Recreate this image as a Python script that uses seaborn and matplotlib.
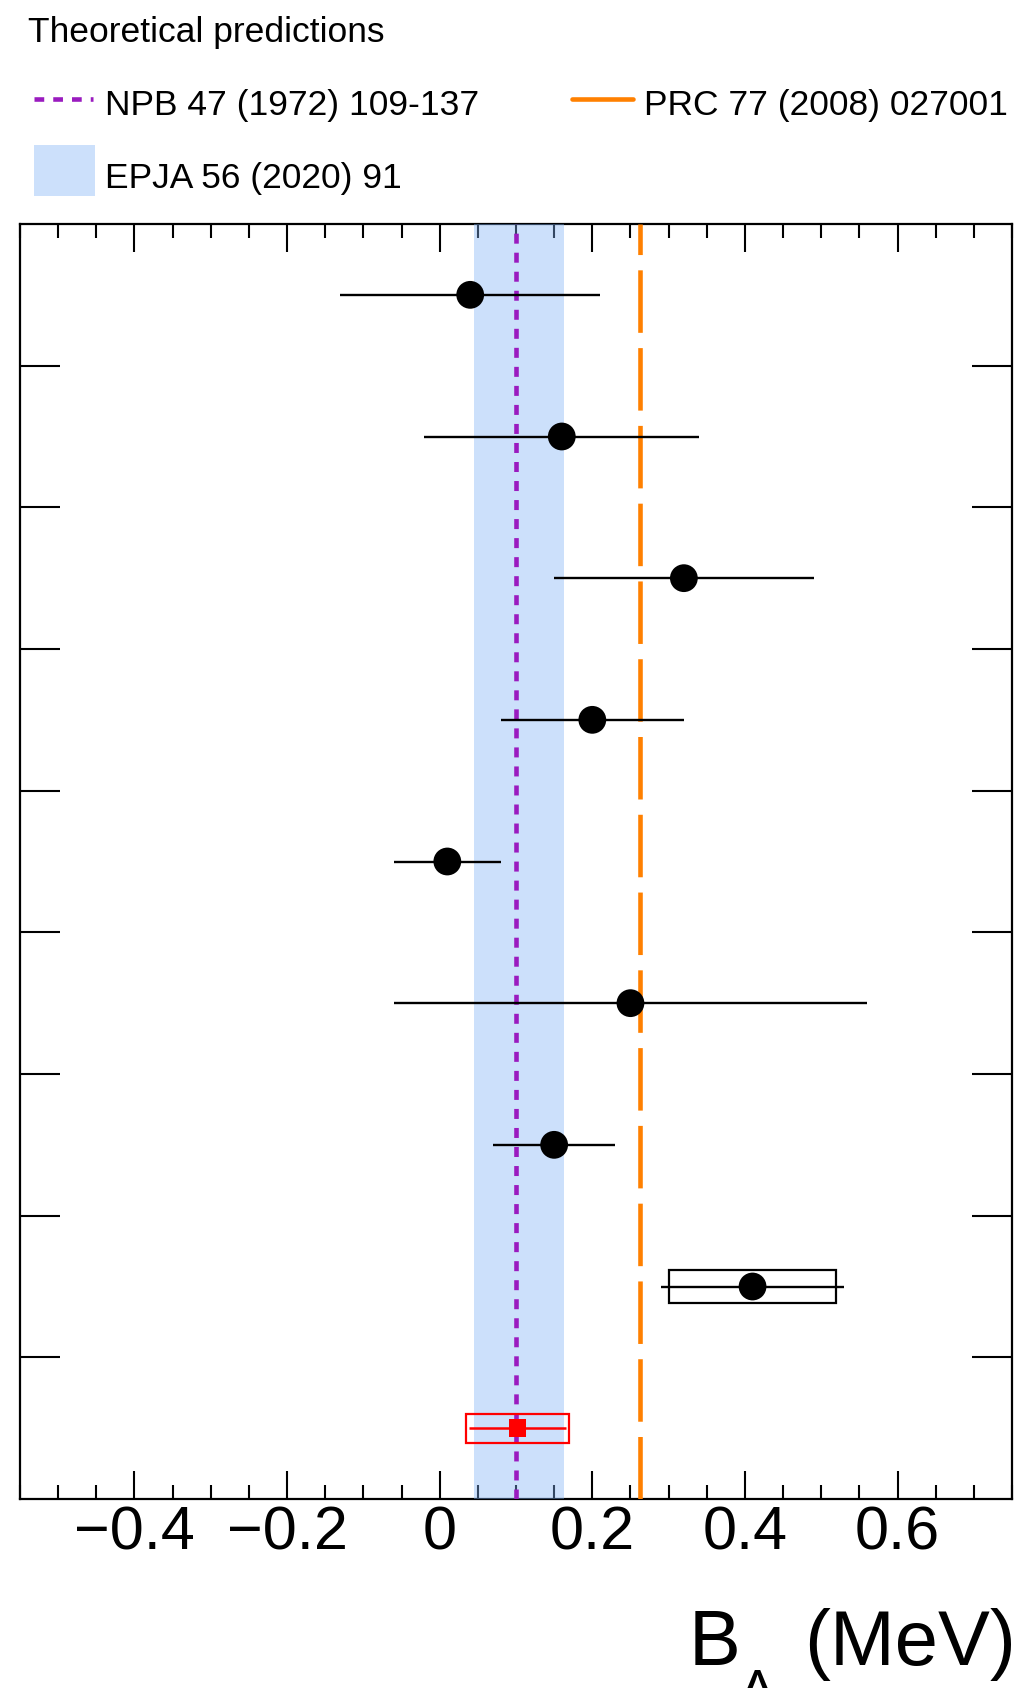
import numpy as np
import pandas as pd
import matplotlib
matplotlib.use("Agg")
import matplotlib.pyplot as plt
import seaborn as sns
from matplotlib.lines import Line2D
from matplotlib.patches import Rectangle
from matplotlib.ticker import MultipleLocator, FixedLocator, FuncFormatter

# ---------------- data ----------------
# measurements, listed from top row to bottom row
black_values = [0.04, 0.16, 0.32, 0.20, 0.01, 0.25, 0.15, 0.41]
black_stat = [0.17, 0.18, 0.17, 0.12, 0.07, 0.31, 0.08, 0.12]
black_syst = [0.0, 0.0, 0.0, 0.0, 0.0, 0.0, 0.0, 0.11]

# this measurement (bottom row, red)
this_value = [0.102]
this_stat = [0.063]
this_syst = [0.068]

# theoretical predictions
npb_value = 0.10            # NPB 47 (1972) 109-137
prc_value = 0.262           # PRC 77 (2008) 027001
epja_band = [0.045, 0.163]  # EPJA 56 (2020) 91

xticks_major = [-0.4, -0.2, 0.0, 0.2, 0.4, 0.6]
legend_title = "Theoretical predictions"
legend_labels = ["NPB 47 (1972) 109-137", "PRC 77 (2008) 027001", "EPJA 56 (2020) 91"]

# ---------------- style ----------------
sns.set_style("white")
plt.rcParams["font.family"] = ["Liberation Sans", "DejaVu Sans"]
plt.rcParams["lines.scale_dashes"] = False
plt.rcParams["text.color"] = "black"
plt.rcParams["xtick.color"] = "black"
plt.rcParams["ytick.color"] = "black"
plt.rcParams["xtick.labelcolor"] = "black"
plt.rcParams["axes.edgecolor"] = "black"

W, H = 1020, 1688
fig = plt.figure(figsize=(W / 100, H / 100), dpi=100)

def fx(px):
    return px / W

def fy(py):
    return 1 - py / H

ax_l, ax_r, ax_t, ax_b = 20, 1012, 224, 1499
ax = fig.add_axes([fx(ax_l), fy(ax_b), fx(ax_r - ax_l), (ax_b - ax_t) / H])

n_rows = len(black_values) + len(this_value)
ypos_black = (np.arange(n_rows)[::-1] + 0.5)[:len(black_values)]
ypos_this = (np.arange(n_rows)[::-1] + 0.5)[len(black_values):]

df_black = pd.DataFrame({"x": black_values, "y": ypos_black,
                         "stat": black_stat, "syst": black_syst})
df_this = pd.DataFrame({"x": this_value, "y": ypos_this,
                        "stat": this_stat, "syst": this_syst})

band_rgb = "#80b2f7"
purple = "#9a1bbf"
orange = "#ff8000"

# theory band and lines
ax.axvspan(epja_band[0], epja_band[1], color=band_rgb, alpha=0.4, lw=0, zorder=2.6)
ax.axvline(npb_value, color=purple, lw=3.3, dashes=(7.2, 6.5), zorder=3)
ax.axvline(prc_value, color=orange, lw=3.3, dashes=(45, 11), zorder=3)

# systematic boxes
sb = df_black[df_black["syst"] > 0]
ax.barh(sb["y"], width=2 * sb["syst"], left=sb["x"] - sb["syst"], height=0.23,
        fill=False, edgecolor="black", linewidth=1.6, zorder=4)
ax.barh(df_this["y"], width=2 * df_this["syst"], left=df_this["x"] - df_this["syst"],
        height=0.205, fill=False, edgecolor="#ff0000", linewidth=1.6, zorder=4)

# statistical error bars
ax.errorbar(df_black["x"], df_black["y"], xerr=df_black["stat"], fmt="none",
            ecolor="black", elinewidth=1.7, capsize=0, zorder=4)
ax.errorbar(df_this["x"], df_this["y"], xerr=df_this["stat"], fmt="none",
            ecolor="#ff0000", elinewidth=1.8, capsize=0, zorder=4)

# markers
sns.scatterplot(data=df_black, x="x", y="y", ax=ax, marker="o", s=400,
                color="black", edgecolor="none", zorder=5, legend=False)
sns.scatterplot(data=df_this, x="x", y="y", ax=ax, marker="s", s=160,
                color="#ff0000", edgecolor="none", zorder=5, legend=False)

# axes
ax.set_xlim(-0.55, 0.75)
ax.set_ylim(0, n_rows)
ax.set_xlabel("")
ax.set_ylabel("")
ax.xaxis.set_major_locator(FixedLocator(xticks_major))
ax.xaxis.set_minor_locator(MultipleLocator(0.05))
ax.xaxis.set_major_formatter(FuncFormatter(
    lambda v, p: "0" if abs(v) < 1e-9 else f"{v:.1f}".replace("-", "\u2212")))
ax.set_yticks(np.arange(1, n_rows))
ax.set_yticklabels([])
ax.tick_params(axis="x", which="major", direction="in", length=20, width=1.5,
               top=True, bottom=True, labelsize=44, pad=5, color="black",
               labelcolor="black")
ax.tick_params(axis="x", which="minor", direction="in", length=10, width=1.5,
               top=True, bottom=True, color="black")
ax.tick_params(axis="y", which="major", direction="in", length=29, width=1.5,
               left=True, right=True, color="black")
for s in ax.spines.values():
    s.set_linewidth(1.6)
    s.set_color("black")

# axis title
fig.text(fx(689), fy(1665), "B", fontsize=56, ha="left", va="baseline", color="black")
fig.text(fx(739), fy(1708), "\u039b", fontsize=40, ha="left", va="baseline", color="black")
fig.text(fx(1016), fy(1665), "(MeV)", fontsize=56, ha="right", va="baseline", color="black")

# legend (drawn manually at figure level)
fig.text(fx(27.5), fy(42), legend_title, fontsize=25.5, ha="left", va="baseline", color="black")
fig.add_artist(Line2D([fx(34), fx(93)], [fy(99), fy(99)], color=purple, lw=3.3,
                      dashes=(7, 6.5), transform=fig.transFigure))
fig.text(fx(105), fy(115), legend_labels[0], fontsize=25.5, ha="left", va="baseline", color="black")
fig.add_artist(Line2D([fx(572), fx(633)], [fy(99), fy(99)], color=orange, lw=3.3,
                      transform=fig.transFigure))
fig.text(fx(644), fy(115), legend_labels[1], fontsize=25.5, ha="left", va="baseline", color="black")
fig.add_artist(Rectangle((fx(34), fy(196)), fx(61), (196 - 145) / H, color=band_rgb,
                         alpha=0.4, lw=0, transform=fig.transFigure))
fig.text(fx(105), fy(188), legend_labels[2], fontsize=25.5, ha="left", va="baseline", color="black")

fig.savefig("out.png", dpi=100)
